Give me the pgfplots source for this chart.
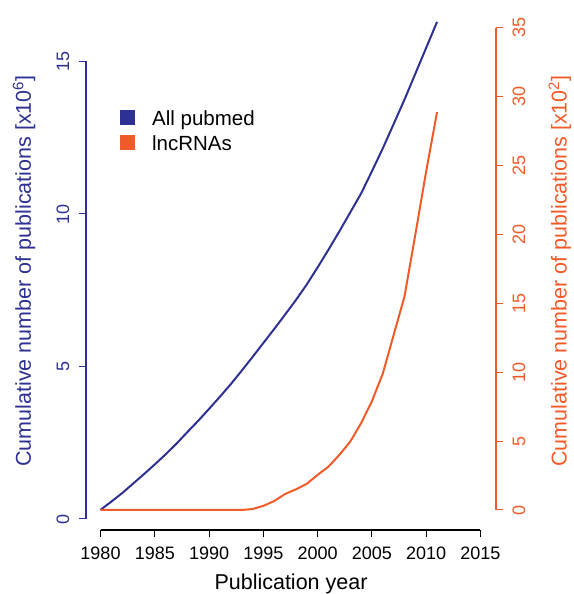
\documentclass[border=0pt]{standalone}
\usepackage{pgfplots}
\pgfplotsset{compat=1.18}
\usepackage{fontspec}
\setmainfont{Liberation Sans}
\definecolor{cblue}{RGB}{46,49,146}
\definecolor{corange}{RGB}{241,90,41}
\pgfplotstableread{
year val
1980 0.30
1981 0.57
1982 0.85
1983 1.16
1984 1.47
1985 1.79
1986 2.12
1987 2.47
1988 2.85
1989 3.22
1990 3.61
1991 4.01
1992 4.42
1993 4.86
1994 5.31
1995 5.77
1996 6.23
1997 6.70
1998 7.18
1999 7.69
2000 8.25
2001 8.83
2002 9.43
2003 10.05
2004 10.67
2005 11.40
2006 12.15
2007 12.95
2008 13.75
2009 14.60
2010 15.45
2011 16.30
}\pubmed
\pgfplotstableread{
year val
1980 0
1981 0
1982 0
1983 0
1984 0
1985 0
1986 0
1987 0
1988 0
1989 0
1990 0
1991 0
1992 0
1993 0
1994 0.07
1995 0.30
1996 0.65
1997 1.16
1998 1.50
1999 1.90
2000 2.55
2001 3.15
2002 4.00
2003 4.96
2004 6.30
2005 7.90
2006 9.90
2007 12.70
2008 15.50
2009 20.00
2010 24.60
2011 28.90
}\lnc
\begin{document}
\begin{tikzpicture}
\path[use as bounding box] (0,0) rectangle (574bp,594bp);
\begin{axis}[
  at={(86bp,64bp)}, anchor=south west,
  scale only axis, width=410bp, height=518bp,
  xmin=1978.664, xmax=2016.43,
  ymin=-0.3607, ymax=16.623,
  clip=false,
  axis x line*=bottom, axis y line*=left,
  axis line style={draw=none},
  xtick={1980,1985,...,2015}, ytick={0,5,10,15},
  tick align=outside, major tick length=7bp,
  x tick style={draw=black, line width=1bp},
  y tick style={draw=cblue, line width=1bp},
  /pgf/number format/assume math mode=true,
  /pgf/number format/1000 sep={},
  xticklabel style={font=\fontsize{18bp}{21bp}\selectfont, black, anchor=base, inner sep=0pt, yshift=-22bp},
  yticklabel style={font=\fontsize{18bp}{21bp}\selectfont, cblue, xshift=-10bp, rotate=90, anchor=base, inner sep=0pt},
  xlabel={Publication year},
  every axis x label/.style={at={(axis description cs:0.5,-0.1158)}, anchor=base, font=\fontsize{21.5bp}{25bp}\selectfont},
  ylabel={Cumulative number of publications [x10\textsuperscript{6}]},
  every axis y label/.style={at={(axis description cs:-0.151,0.5)}, rotate=90, anchor=center, font=\fontsize{21.5bp}{25bp}\selectfont, cblue},
  legend style={at={(axis description cs:0.0829,0.814)}, anchor=north west, draw=none, fill=none, font=\fontsize{20.5bp}{24bp}\selectfont, inner sep=0pt, row sep=5bp, column sep=15bp},
  legend cell align=left,
  legend image code/.code={\fill[#1] (0bp,-5bp) rectangle (13bp,8bp);},
]
\addplot[cblue, line width=2bp] table[x=year, y=val] {\pubmed};
\addlegendentry{All pubmed}
\addlegendimage{corange, line width=2bp}
\addlegendentry{lncRNAs}
\draw[cblue, line width=1.2bp] (axis cs:1978.664,0) -- (axis cs:1978.664,15);
\draw[black, line width=1.2bp] (axis cs:1980,-0.3607) -- (axis cs:2015,-0.3607);
\end{axis}
\begin{axis}[
  at={(86bp,64bp)}, anchor=south west,
  scale only axis, width=410bp, height=518bp,
  xmin=1978.664, xmax=2016.43,
  ymin=-1.4524, ymax=36.16,
  clip=false,
  axis x line=none, axis y line*=right,
  axis line style={draw=none},
  ytick={0,5,...,35},
  tick align=outside, major tick length=7bp,
  y tick style={draw=corange, line width=1bp},
  /pgf/number format/assume math mode=true,
  yticklabel style={font=\fontsize{18bp}{21bp}\selectfont, corange, xshift=22bp, rotate=90, anchor=base, inner sep=0pt},
  ylabel={Cumulative number of publications [x10\textsuperscript{2}]},
  every axis y label/.style={at={(axis description cs:1.156,0.5)}, rotate=90, anchor=center, font=\fontsize{21.5bp}{25bp}\selectfont, corange},
]
\addplot[corange, line width=2bp] table[x=year, y=val] {\lnc};
\draw[corange, line width=1.2bp] (axis cs:2016.43,0) -- (axis cs:2016.43,35);
\end{axis}
\end{tikzpicture}
\end{document}
